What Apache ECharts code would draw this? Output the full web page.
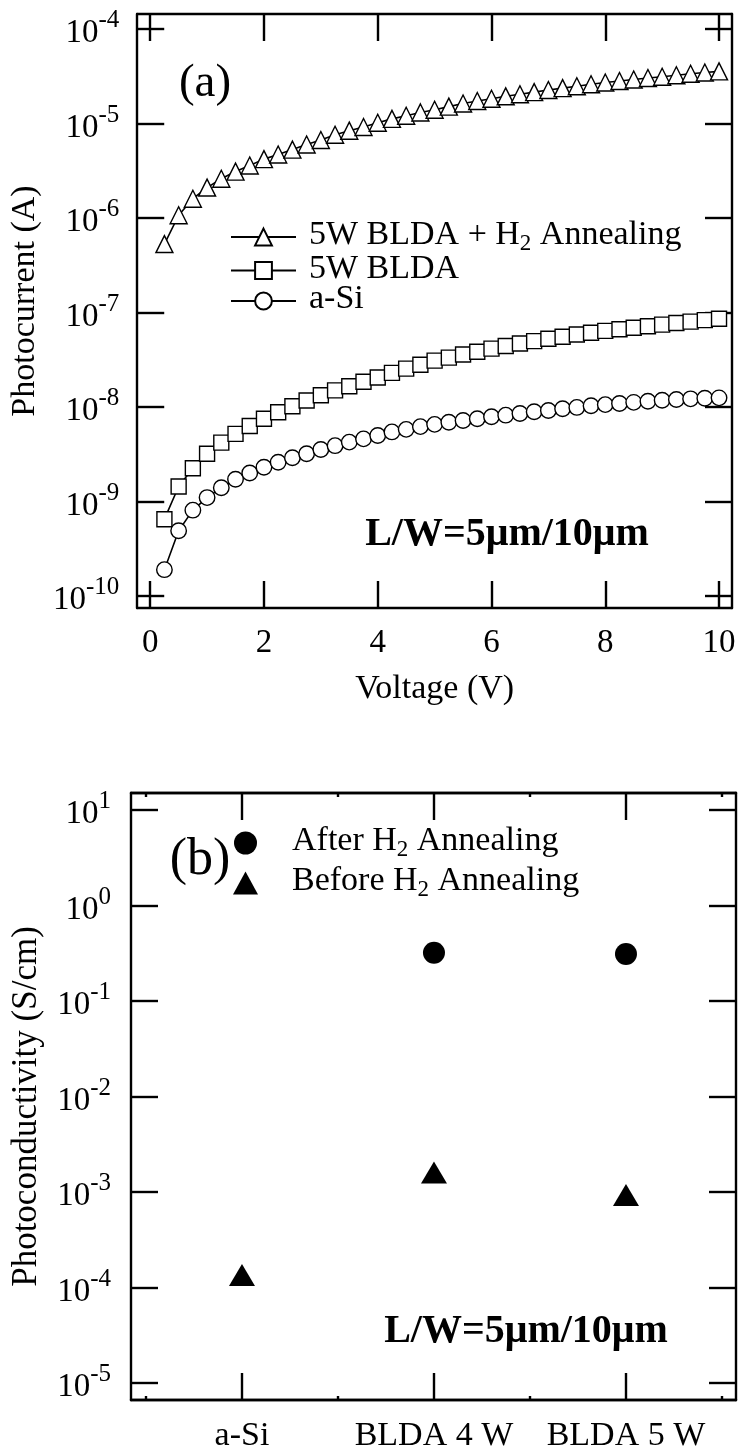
<!DOCTYPE html>
<html>
<head>
<meta charset="utf-8">
<script src="https://cdn.jsdelivr.net/npm/echarts@6/dist/echarts.min.js"></script>
<style>
  html, body { margin: 0; padding: 0; background: #fff; }
  #chart { width: 739px; height: 1454px; }
</style>
</head>
<body>
<div id="chart"></div>
<script>
// ---- (a) photocurrent vs. bias voltage ----
const voltage = [0.25, 0.5, 0.75, 1, 1.25, 1.5, 1.75, 2, 2.25, 2.5, 2.75, 3, 3.25, 3.5, 3.75, 4,
  4.25, 4.5, 4.75, 5, 5.25, 5.5, 5.75, 6, 6.25, 6.5, 6.75, 7, 7.25, 7.5, 7.75, 8,
  8.25, 8.5, 8.75, 9, 9.25, 9.5, 9.75, 10];
const currentAnnealed = [5.3e-7, 1.07e-6, 1.6e-6, 2.1e-6, 2.6e-6, 3.1e-6, 3.6e-6, 4.2e-6, 4.7e-6, 5.3e-6,
  6.0e-6, 6.7e-6, 7.6e-6, 8.4e-6, 9.2e-6, 1.02e-5, 1.12e-5, 1.21e-5, 1.31e-5, 1.40e-5,
  1.51e-5, 1.63e-5, 1.73e-5, 1.83e-5, 1.94e-5, 2.04e-5, 2.15e-5, 2.26e-5, 2.37e-5, 2.48e-5,
  2.6e-5, 2.72e-5, 2.82e-5, 2.92e-5, 3.03e-5, 3.13e-5, 3.24e-5, 3.36e-5, 3.47e-5, 3.56e-5];
const currentBLDA = [6.5e-10, 1.44e-9, 2.25e-9, 3.2e-9, 4.2e-9, 5.2e-9, 6.3e-9, 7.5e-9, 8.8e-9, 1.02e-8,
  1.17e-8, 1.33e-8, 1.5e-8, 1.66e-8, 1.85e-8, 2.05e-8, 2.3e-8, 2.55e-8, 2.8e-8, 3.1e-8,
  3.33e-8, 3.6e-8, 3.85e-8, 4.15e-8, 4.42e-8, 4.7e-8, 4.98e-8, 5.27e-8, 5.55e-8, 5.85e-8,
  6.1e-8, 6.4e-8, 6.65e-8, 6.9e-8, 7.15e-8, 7.45e-8, 7.75e-8, 8.0e-8, 8.3e-8, 8.6e-8];
const currentASi = [1.9e-10, 4.9e-10, 8.1e-10, 1.1e-9, 1.4e-9, 1.72e-9, 2.0e-9, 2.3e-9, 2.6e-9, 2.9e-9,
  3.2e-9, 3.55e-9, 3.9e-9, 4.25e-9, 4.6e-9, 5.0e-9, 5.45e-9, 5.8e-9, 6.2e-9, 6.55e-9,
  6.9e-9, 7.2e-9, 7.5e-9, 7.9e-9, 8.2e-9, 8.55e-9, 8.9e-9, 9.2e-9, 9.6e-9, 9.9e-9,
  1.03e-8, 1.06e-8, 1.09e-8, 1.12e-8, 1.15e-8, 1.18e-8, 1.2e-8, 1.22e-8, 1.24e-8, 1.25e-8];
const voltageTicks = [0, 2, 4, 6, 8, 10];
const currentDecades = [-10, -9, -8, -7, -6, -5, -4];

// ---- (b) photoconductivity per sample ----
const samples = ['a-Si', 'BLDA 4 W', 'BLDA 5 W'];
const condAfter = [null, 0.32, 0.31];
const condBefore = [1.35e-4, 1.6e-3, 9.3e-4];
const sampleTicks = [1, 2, 3];
const sampleMinorTicks = [0.5, 1.5, 2.5, 3.5];
const condDecades = [-5, -4, -3, -2, -1, 0, 1];

const FONT = 'Liberation Serif';
const INK = '#000';
const AXIS_W = 2.4;

// "10" with a raised exponent
const powLabel = {
  formatter: v => '{m|10}{s|' + v + '}',
  rich: {
    m: { fontFamily: FONT, fontSize: 33, lineHeight: 33, color: INK, verticalAlign: 'bottom' },
    s: { fontFamily: FONT, fontSize: 25, lineHeight: 42, color: INK, verticalAlign: 'top' }
  }
};
// legend text with a lowered "2" in H2
const subRich = {
  n: { fontFamily: FONT, fontSize: 34, lineHeight: 37, color: INK, verticalAlign: 'top' },
  sub: { fontFamily: FONT, fontSize: 23, lineHeight: 37, color: INK, verticalAlign: 'bottom' }
};
const withSub = name => {
  const i = name.indexOf('H2');
  if (i < 0) return '{n|' + name + '}';
  return '{n|' + name.slice(0, i) + 'H}{sub|2}{n|' + name.slice(i + 2) + '}';
};

function axisBase(extra) {
  return Object.assign({
    type: 'value',
    axisLine: { show: true, onZero: false, lineStyle: { color: INK, width: AXIS_W } },
    splitLine: { show: false },
    axisLabel: { show: false },
    axisTick: { show: true, inside: true, length: 27, lineStyle: { color: INK, width: AXIS_W } }
  }, extra);
}
function ticks(values, length) {
  return { show: true, inside: true, length: length, customValues: values, lineStyle: { color: INK, width: AXIS_W } };
}

const lg = v => Math.log10(v);
const pairs = (xs, ys) => xs.map((x, i) => [x, lg(ys[i])]);

const curveStyle = (name, symbol, size, values) => ({
  type: 'line', name: name, xAxisIndex: 0, yAxisIndex: 0,
  data: pairs(voltage, values),
  symbol: symbol, symbolSize: size, showAllSymbol: true,
  lineStyle: { color: INK, width: 1.6 },
  itemStyle: { color: '#fff', borderColor: INK, borderWidth: 1.4, opacity: 1 },
  emphasis: { disabled: true }, animation: false
});

const option = {
  backgroundColor: '#fff',
  animation: false,
  grid: [
    { left: 136, top: 14, width: 596, height: 594 },
    { left: 131, top: 793, width: 605, height: 607 }
  ],
  xAxis: [
    axisBase({
      gridIndex: 0, position: 'bottom', min: -0.228, max: 10.228,
      axisTick: ticks(voltageTicks, 27),
      axisLabel: { show: true, customValues: voltageTicks, fontFamily: FONT, fontSize: 33, color: INK, margin: 19 },
      name: 'Voltage (V)', nameLocation: 'middle', nameGap: 64,
      nameTextStyle: { fontFamily: FONT, fontSize: 34, color: INK }
    }),
    axisBase({ gridIndex: 0, position: 'top', min: -0.228, max: 10.228, axisTick: ticks(voltageTicks, 27) }),
    axisBase({
      gridIndex: 1, position: 'bottom', min: 0.422, max: 3.573,
      axisTick: ticks(sampleTicks, 27),
      axisLabel: { show: true, customValues: sampleTicks, formatter: v => samples[Math.round(v) - 1],
        fontFamily: FONT, fontSize: 34, color: INK, margin: 19 }
    }),
    axisBase({ gridIndex: 1, position: 'bottom', min: 0.422, max: 3.573, axisTick: ticks(sampleMinorTicks, 4) }),
    axisBase({ gridIndex: 1, position: 'top', min: 0.422, max: 3.573, axisTick: ticks(sampleTicks, 27) }),
    axisBase({ gridIndex: 1, position: 'top', min: 0.422, max: 3.573, axisTick: ticks(sampleMinorTicks, 4) })
  ],
  yAxis: [
    axisBase({
      gridIndex: 0, position: 'left', min: -10.127, max: -3.841,
      axisTick: ticks(currentDecades, 27),
      axisLabel: Object.assign({ show: true, customValues: currentDecades, margin: 18 }, powLabel),
      name: 'Photocurrent (A)', nameLocation: 'middle', nameGap: 92,
      nameTextStyle: { fontFamily: FONT, fontSize: 34, color: INK, padding: [0, 0, 0, 20] }
    }),
    axisBase({ gridIndex: 0, position: 'right', min: -10.127, max: -3.841, axisTick: ticks(currentDecades, 27) }),
    axisBase({
      gridIndex: 1, position: 'left', min: -5.178, max: 1.178,
      axisTick: ticks(condDecades, 27),
      axisLabel: Object.assign({ show: true, customValues: condDecades, margin: 20 }, powLabel),
      name: 'Photoconductivity (S/cm)', nameLocation: 'middle', nameGap: 87,
      nameTextStyle: { fontFamily: FONT, fontSize: 35, color: INK, padding: [0, 20, 0, 0] }
    }),
    axisBase({ gridIndex: 1, position: 'right', min: -5.178, max: 1.178, axisTick: ticks(condDecades, 27) })
  ],
  legend: [
    {
      data: ['5W BLDA + H2 Annealing', '5W BLDA', 'a-Si'],
      orient: 'vertical', left: 230, top: 218.5, padding: 0,
      itemWidth: 65, itemHeight: 21, itemGap: -3.5,
      selectedMode: false,
      formatter: withSub,
      textStyle: { fontFamily: FONT, fontSize: 34, color: INK, padding: [0, 0, 0, 8], rich: subRich }
    },
    {
      data: ['After H2 Annealing', 'Before H2 Annealing'],
      orient: 'vertical', left: 233, top: 824.5, padding: 0,
      itemWidth: 25, itemHeight: 23, itemGap: 3,
      selectedMode: false,
      formatter: withSub,
      textStyle: { fontFamily: FONT, fontSize: 34, color: INK, padding: [0, 0, 0, 29], rich: subRich }
    }
  ],
  graphic: [
    { type: 'text', x: 205, y: 84, style: { text: '(a)', font: '47px "Liberation Serif"', fill: INK, align: 'center', verticalAlign: 'middle' } },
    { type: 'text', x: 507, y: 535, style: { text: 'L/W=5μm/10μm', font: 'bold 40px "Liberation Serif"', fill: INK, align: 'center', verticalAlign: 'middle' } },
    { type: 'text', x: 200, y: 860, style: { text: '(b)', font: '52px "Liberation Serif"', fill: INK, align: 'center', verticalAlign: 'middle' } },
    { type: 'text', x: 526, y: 1332, style: { text: 'L/W=5μm/10μm', font: 'bold 40px "Liberation Serif"', fill: INK, align: 'center', verticalAlign: 'middle' } }
  ],
  series: [
    curveStyle('5W BLDA + H2 Annealing', 'triangle', 17, currentAnnealed),
    curveStyle('5W BLDA', 'rect', 15, currentBLDA),
    curveStyle('a-Si', 'circle', 15.5, currentASi),
    {
      type: 'scatter', name: 'After H2 Annealing', xAxisIndex: 2, yAxisIndex: 2,
      data: samples.map((s, i) => condAfter[i] == null ? null : [i + 1, lg(condAfter[i])]).filter(d => d),
      symbol: 'circle', symbolSize: 22,
      itemStyle: { color: INK, opacity: 1 }, emphasis: { disabled: true }, animation: false
    },
    {
      type: 'scatter', name: 'Before H2 Annealing', xAxisIndex: 2, yAxisIndex: 2,
      data: samples.map((s, i) => [i + 1, lg(condBefore[i])]),
      symbol: 'triangle', symbolSize: [26, 22],
      itemStyle: { color: INK, opacity: 1 }, emphasis: { disabled: true }, animation: false
    }
  ]
};

const chart = echarts.init(document.getElementById('chart'), null, { renderer: 'canvas' });
chart.setOption(option);
</script>
</body>
</html>
